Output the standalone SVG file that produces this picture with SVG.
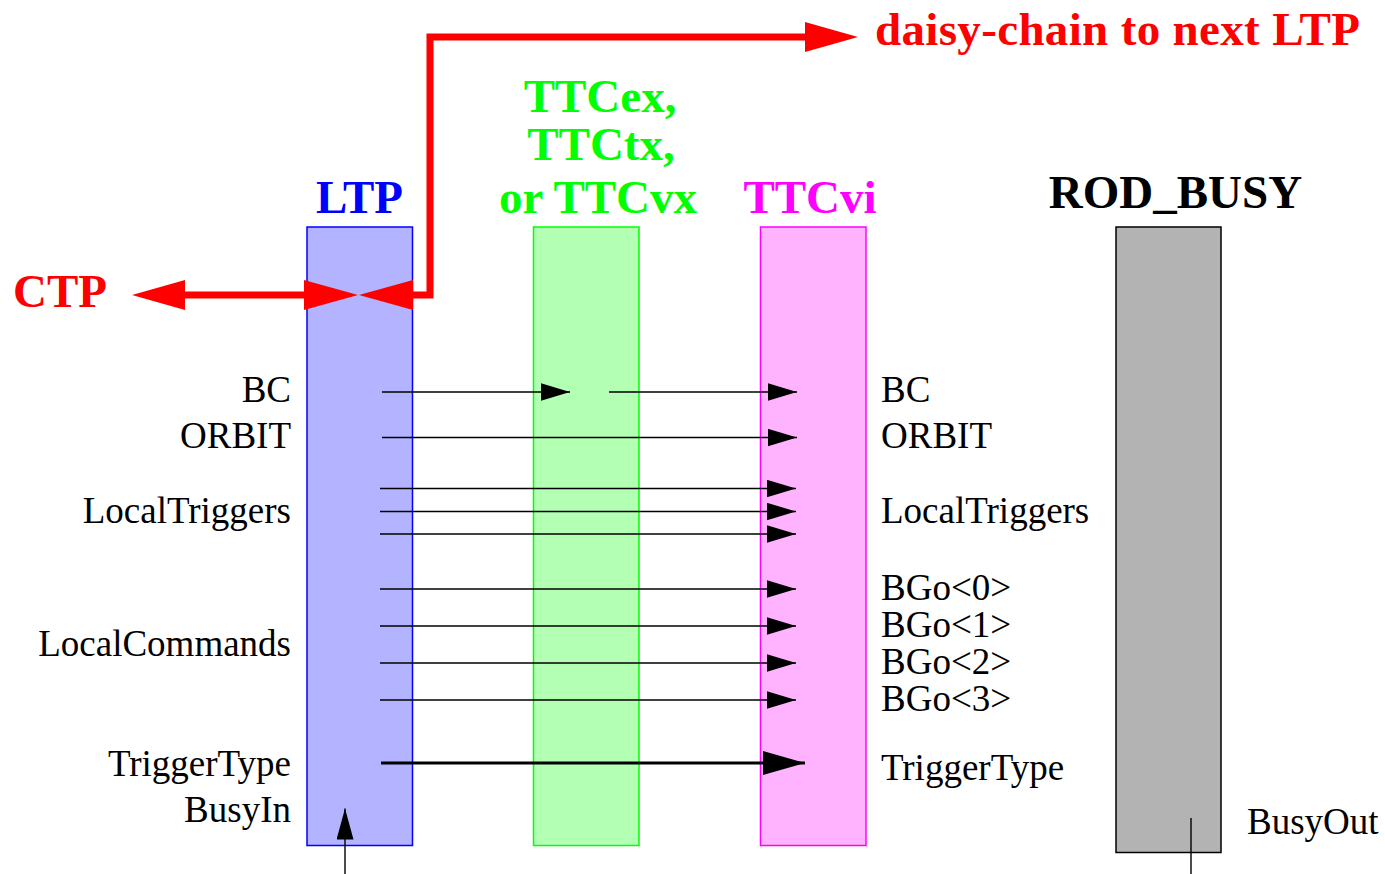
<svg xmlns="http://www.w3.org/2000/svg" width="1385" height="874" viewBox="0 0 1385 874">
  <style>
    .lbl { font-family: "Liberation Serif", "Times New Roman", serif; font-size: 37px; fill: #000; }
    .ttl { font-family: "Liberation Serif", "Times New Roman", serif; font-size: 47px; font-weight: bold; }
    .sig { stroke: #000; stroke-width: 1.4; fill: none; }
    .red { stroke: #ff0000; stroke-width: 7; fill: none; stroke-linejoin: miter; }
    .redhead { fill: #ff0000; }
  </style>
  <defs>
    <marker id="head" markerUnits="userSpaceOnUse" markerWidth="30" markerHeight="18" refX="29" refY="8.7" orient="auto">
      <path d="M0,0 L29,8.7 L0,17.4 z" fill="#000"/>
    </marker>
    <marker id="headBig" markerUnits="userSpaceOnUse" markerWidth="43" markerHeight="25" refX="42" refY="12" orient="auto">
      <path d="M0,0 L42,12 L0,24 z" fill="#000"/>
    </marker>
    <marker id="headBusy" markerUnits="userSpaceOnUse" markerWidth="32" markerHeight="18" refX="31" refY="8.5" orient="auto">
      <path d="M0,0 L31,8.5 L0,17 z" fill="#000"/>
    </marker>
  </defs>

  <rect width="1385" height="874" fill="#fff"/>

  <!-- LTP module -->
  <g id="ltp">
    <rect x="307" y="227" width="105.5" height="618.5" fill="#b3b3ff" stroke="#0000ff" stroke-width="1.5"/>
    <text class="ttl" x="359.5" y="213" text-anchor="middle" fill="#0000ff">LTP</text>
    <g class="lbl" text-anchor="end">
      <text x="291" y="402">BC</text>
      <text x="291" y="448">ORBIT</text>
      <text x="291" y="523">LocalTriggers</text>
      <text x="291" y="656">LocalCommands</text>
      <text x="291" y="776">TriggerType</text>
      <text x="291" y="822">BusyIn</text>
    </g>
  </g>

  <!-- TTC transmitter module -->
  <g id="ttcx">
    <rect x="533.5" y="227" width="105.5" height="618.5" fill="#b3ffb3" stroke="#00ff00" stroke-width="1.5"/>
    <g class="ttl" text-anchor="middle" fill="#00ff00">
      <text x="600" y="111.5">TTCex,</text>
      <text x="601" y="160">TTCtx,</text>
      <text x="598" y="213">or TTCvx</text>
    </g>
  </g>

  <!-- TTCvi module -->
  <g id="ttcvi">
    <rect x="760.5" y="227" width="105.5" height="618.5" fill="#ffb3ff" stroke="#ff00ff" stroke-width="1.5"/>
    <text class="ttl" x="810" y="213" text-anchor="middle" fill="#ff00ff">TTCvi</text>
    <g class="lbl">
      <text x="881" y="402">BC</text>
      <text x="881" y="448">ORBIT</text>
      <text x="881" y="523">LocalTriggers</text>
      <text x="881" y="600">BGo&lt;0&gt;</text>
      <text x="881" y="637">BGo&lt;1&gt;</text>
      <text x="881" y="674">BGo&lt;2&gt;</text>
      <text x="881" y="711">BGo&lt;3&gt;</text>
      <text x="881" y="780">TriggerType</text>
    </g>
  </g>

  <!-- ROD_BUSY module -->
  <g id="rod_busy">
    <rect x="1116" y="227" width="105" height="625.5" fill="#b3b3b3" stroke="#000" stroke-width="1.5"/>
    <text class="ttl" x="1175.5" y="208" text-anchor="middle" fill="#000">ROD_BUSY</text>
    <text class="lbl" x="1247" y="834">BusyOut</text>
  </g>

  <!-- external links -->
  <g id="ctp">
    <text class="ttl" x="13" y="307" fill="#ff0000">CTP</text>
  </g>
  <g id="next_ltp">
    <text class="ttl" x="875" y="45" fill="#ff0000" textLength="485" lengthAdjust="spacing">daisy-chain to next LTP</text>
  </g>

  <!-- connectors -->
  <g id="connectors">
    <!-- CTP link (bidirectional) -->
    <line class="red" x1="184" y1="295" x2="305" y2="295"/>
    <polygon class="redhead" points="132,295 185,280 185,310"/>
    <polygon class="redhead" points="304,280 358,295 304,310"/>
    <!-- daisy-chain output -->
    <polygon class="redhead" points="413,280 359,295 413,310"/>
    <polyline class="red" points="412,295 430,295 430,37 806,37"/>
    <polygon class="redhead" points="805,22 858,37 805,52"/>

    <!-- signal lines -->
    <line class="sig" x1="382" y1="392" x2="570" y2="392" marker-end="url(#head)"/>
    <line class="sig" x1="609" y1="392" x2="797" y2="392" marker-end="url(#head)"/>
    <line class="sig" x1="382" y1="437.5" x2="797" y2="437.5" marker-end="url(#head)"/>
    <line class="sig" x1="380" y1="488.5" x2="796" y2="488.5" marker-end="url(#head)"/>
    <line class="sig" x1="380" y1="511.5" x2="796" y2="511.5" marker-end="url(#head)"/>
    <line class="sig" x1="380" y1="534" x2="796" y2="534" marker-end="url(#head)"/>
    <line class="sig" x1="380" y1="589" x2="796" y2="589" marker-end="url(#head)"/>
    <line class="sig" x1="380" y1="626" x2="796" y2="626" marker-end="url(#head)"/>
    <line class="sig" x1="380" y1="663" x2="796" y2="663" marker-end="url(#head)"/>
    <line class="sig" x1="380" y1="700" x2="796" y2="700" marker-end="url(#head)"/>
    <line x1="381" y1="763" x2="805" y2="763" stroke="#000" stroke-width="3" marker-end="url(#headBig)"/>

    <!-- busy in / out -->
    <line class="sig" x1="345" y1="874" x2="345" y2="808.5" marker-end="url(#headBusy)"/>
    <line class="sig" x1="1191" y1="818" x2="1191" y2="874"/>
  </g>
</svg>
